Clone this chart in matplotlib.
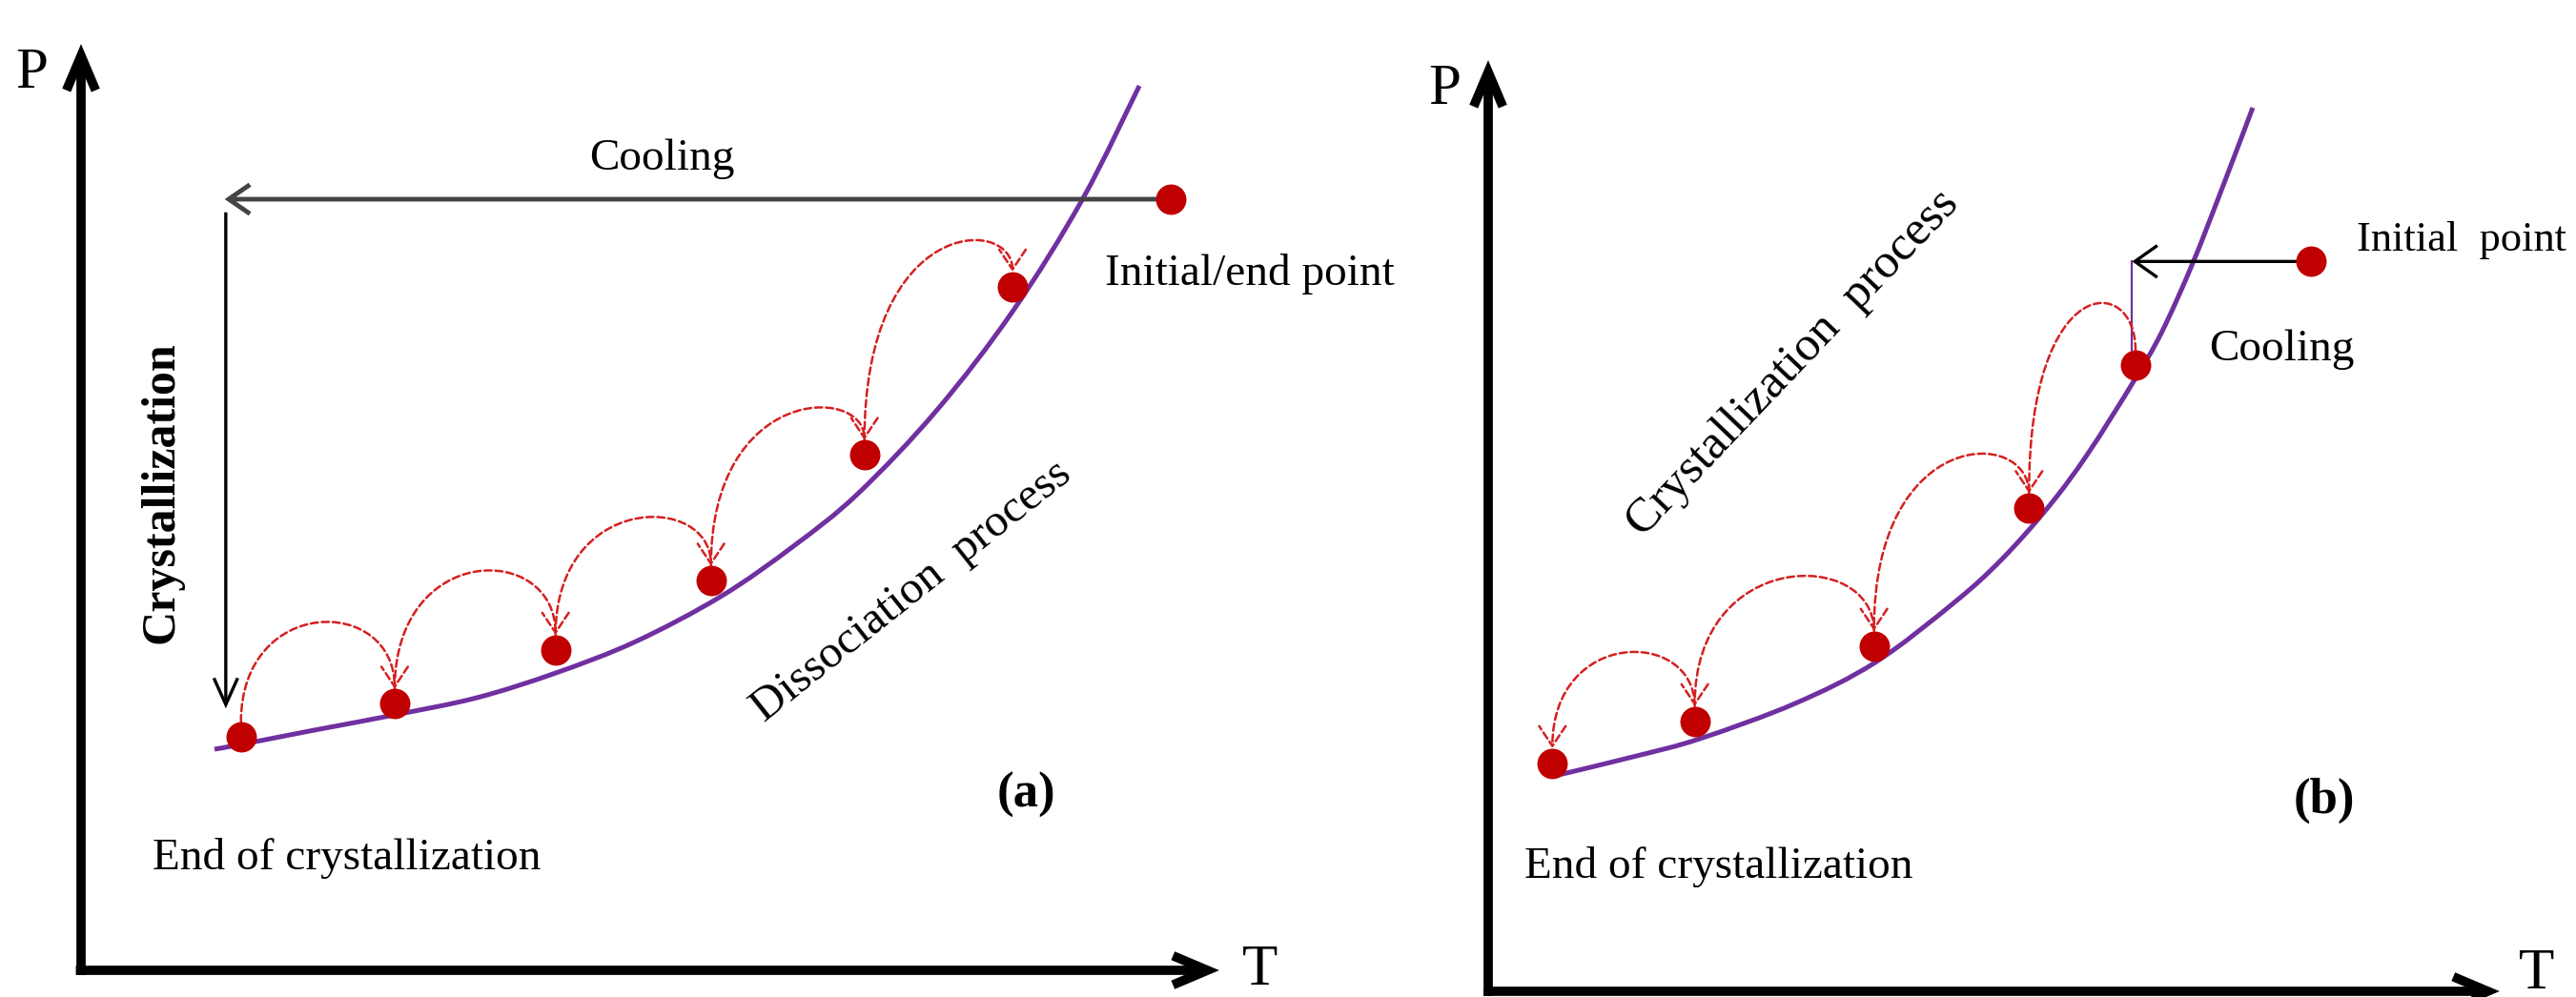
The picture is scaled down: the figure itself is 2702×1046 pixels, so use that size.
import matplotlib
matplotlib.use("Agg")
import matplotlib.pyplot as plt
import numpy as np
from matplotlib.patches import FancyArrowPatch, ArrowStyle, PathPatch
from matplotlib.path import Path

plt.rcParams['font.family'] = ['Liberation Serif', 'DejaVu Serif']

# ---- panel (a): dissociation (T, P in arbitrary 0-100 units) ----
a_curve_T = [11.62, 13.94, 20.33, 27.30, 34.44, 41.33, 48.30, 55.77, 62.07, 67.63, 74.52, 81.16, 87.22, 92.12]
a_curve_P = [23.60, 24.11, 25.64, 27.26, 29.09, 31.74, 35.10, 39.96, 45.32, 50.88, 59.82, 70.45, 82.40, 94.40]
a_dots_T = [13.92, 27.30, 41.30, 54.83, 68.19, 81.08]
a_dots_P = [24.89, 28.45, 34.21, 41.58, 55.00, 72.97]
a_hop_peak = [37.10, 42.52, 48.12, 59.31, 76.78]
a_init = (94.88, 82.30)
a_corner_T = 12.5
a_crys_end_P = 27.95

# ---- panel (b): crystallization ----
b_curve_T = [6.90, 14.55, 20.71, 30.04, 37.87, 45.62, 50.28, 54.94, 58.68, 63.06, 65.86, 68.94, 72.01, 74.81]
b_curve_P = [22.98, 25.00, 26.82, 30.57, 34.92, 41.30, 45.90, 51.60, 57.10, 64.60, 69.90, 77.33, 85.83, 93.83]
b_dots_T = [6.28, 20.21, 37.75, 52.92, 63.34]
b_dots_P = [24.22, 28.67, 36.67, 51.29, 66.47]
b_hop_peak = [35.93, 43.86, 56.35, 72.37]
b_init = (80.50, 77.50)
b_corner_T = 63.0

RED = '#C00000'
PURPLE = '#7030A0'
DOT_R = 1.6


def smooth_curve(ax, xs, ys):
    # bezier through the read points (catmull-rom tangents), drawn by matplotlib
    pts = np.column_stack([xs, ys])
    n = len(pts)
    verts = [pts[0]]
    codes = [Path.MOVETO]
    for i in range(n - 1):
        p0 = pts[max(i - 1, 0)]
        p1 = pts[i]
        p2 = pts[i + 1]
        p3 = pts[min(i + 2, n - 1)]
        verts += [p1 + (p2 - p0) / 6.0, p2 - (p3 - p1) / 6.0, p2]
        codes += [Path.CURVE4] * 3
    ax.add_patch(PathPatch(Path(verts, codes), fill=False, edgecolor=PURPLE, lw=3.6,
                           capstyle='butt', zorder=2, clip_on=False))


def hop(ax, t0, p0, t1, p1, peak):
    s = (t0, p0 + DOT_R)
    e = (t1, p1 + DOT_R)
    cy = (peak - (s[1] + e[1]) / 8.0) / 0.75
    path = Path([s, (t0, cy), (t1, cy), e],
                [Path.MOVETO, Path.CURVE4, Path.CURVE4, Path.CURVE4])
    arr = FancyArrowPatch(path=path,
                          arrowstyle=ArrowStyle('->', head_length=15, head_width=10),
                          mutation_scale=1, color='#D42020', lw=1.8,
                          linestyle=(0, (3, 1.6)), zorder=3, clip_on=False)
    ax.add_patch(arr)


def arrow(ax, a, b, lw, color='black', hl=20, hw=10, shrink=0, z=2):
    arr = FancyArrowPatch(posA=a, posB=b, arrowstyle=ArrowStyle('->', head_length=hl, head_width=hw),
                          mutation_scale=1, lw=lw, color=color, shrinkA=0, shrinkB=shrink,
                          joinstyle='miter', capstyle='butt', zorder=z, clip_on=False)
    ax.add_patch(arr)


def frame(ax, t_y):
    ax.set_xlim(0, 100)
    ax.set_ylim(0, 100)
    ax.axis('off')
    arrow(ax, (-0.45, 0), (100, 0), 7, hl=26, hw=11, shrink=8)
    arrow(ax, (0, -0.5), (0, 100), 7, hl=26, hw=11, shrink=8)
    ax.text(-4.3, 95.7, 'P', fontsize=44, ha='center', va='center')
    ax.text(102.6, t_y, 'T', fontsize=44, ha='center', va='center', clip_on=False)


fig = plt.figure(figsize=(27.02, 10.46), dpi=100)

# ---------- (a) ----------
ax1 = fig.add_axes([0.03146, 0.02677, 0.44597, 0.93977])
frame(ax1, 0.0)
smooth_curve(ax1, a_curve_T, a_curve_P)
for i in range(len(a_dots_T) - 1):
    hop(ax1, a_dots_T[i], a_dots_P[i], a_dots_T[i + 1], a_dots_P[i + 1], a_hop_peak[i])
ax1.plot(a_dots_T + [a_init[0]], a_dots_P + [a_init[1]], 'o', color=RED, ms=23, mec='none',
         zorder=4, clip_on=False)
arrow(ax1, a_init, (a_corner_T, a_init[1]), 3.5, color='#444444', hl=16, hw=11)
arrow(ax1, (a_corner_T + 0.1, a_init[1] - 1.4), (a_corner_T + 0.1, a_crys_end_P), 2.4, hl=20, hw=9)
ax1.text(50.6, 85.5, 'Cooling', fontsize=34, ha='center', va='baseline')
ax1.text(89.1, 73.1, 'Initial/end point', fontsize=34, ha='left', va='baseline')
ax1.text(6.2, 12.0, 'End of crystallization', fontsize=34, ha='left', va='center')
ax1.text(7.05, 51.0, 'Crystallization', fontsize=36, fontweight='bold', rotation=90,
         ha='center', va='center')
ax1.text(72.3, 40.5, 'Dissociation  process', fontsize=35, rotation=38.4,
         ha='center', va='center', rotation_mode='anchor')
ax1.text(82.3, 18.7, '(a)', fontsize=38, fontweight='bold', ha='center', va='center')

# ---------- (b) ----------
ax2 = fig.add_axes([0.57772, 0.005736, 0.39674, 0.94455])
frame(ax2, 1.8)
smooth_curve(ax2, b_curve_T, b_curve_P)
for i in range(len(b_dots_T) - 1, 0, -1):
    hop(ax2, b_dots_T[i], b_dots_P[i], b_dots_T[i - 1], b_dots_P[i - 1], b_hop_peak[i - 1])
ax2.plot(b_dots_T + [b_init[0]], b_dots_P + [b_init[1]], 'o', color=RED, ms=23, mec='none',
         zorder=4, clip_on=False)
arrow(ax2, b_init, (b_corner_T, b_init[1]), 2.4, hl=17, hw=12)
ax2.plot([b_corner_T, b_corner_T], [b_init[1], b_dots_P[-1] + DOT_R], color=PURPLE, lw=1.6, zorder=2)
ax2.text(70.5, 67.0, 'Cooling', fontsize=34, ha='left', va='baseline')
ax2.text(85.0, 78.6, 'Initial  point', fontsize=32, ha='left', va='baseline', clip_on=False)
ax2.text(3.5, 13.2, 'End of crystallization', fontsize=34, ha='left', va='center')
ax2.text(29.8, 66.7, 'Crystallization  process', fontsize=37, rotation=46.4,
         ha='center', va='center', rotation_mode='anchor')
ax2.text(81.8, 20.3, '(b)', fontsize=38, fontweight='bold', ha='center', va='center')

fig.savefig('out.png', dpi=100, facecolor='white')
